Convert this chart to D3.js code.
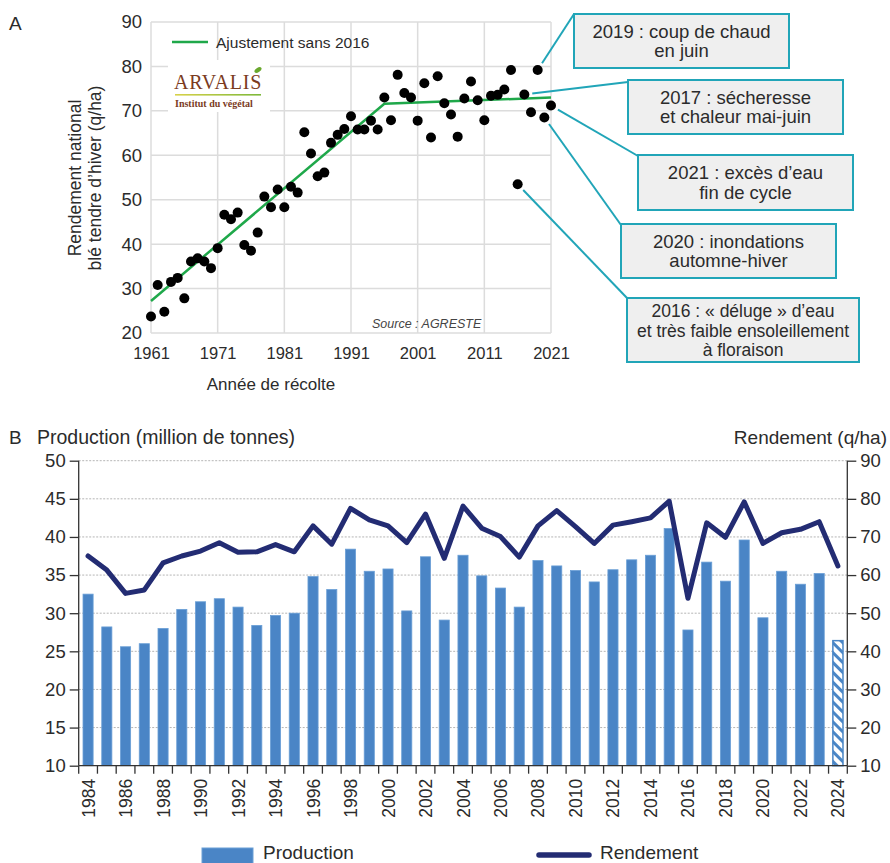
<!DOCTYPE html>
<html><head><meta charset="utf-8">
<script src="https://cdn.jsdelivr.net/npm/d3@7"></script>
<style>
body{margin:0;background:#fff;}
svg{display:block;font-family:"Liberation Sans",Arial,Helvetica,sans-serif;}
</style></head>
<body><svg id="c" width="890" height="863"></svg>
<script>
// ---------- Panel A data ----------
const yearsA = d3.range(1961, 2022);
const yieldA = [23.7,30.8,24.8,31.5,32.4,27.8,36.1,36.8,36.1,34.6,
                39.1,46.6,45.6,47.1,39.8,38.5,42.6,50.7,48.3,52.3,
                48.3,52.9,51.6,65.2,60.4,55.3,56.1,62.8,64.6,65.9,
                68.8,65.8,65.8,67.8,65.8,73.0,67.9,78.1,74.0,73.0,
                67.8,76.2,64.0,77.8,71.7,69.2,64.2,72.8,76.6,72.4,
                67.9,73.4,73.6,74.8,79.2,53.5,73.7,69.7,79.2,68.5,71.2];
const fitYears = [1961, 1996, 2021];
const fitValues = [27.2, 71.6, 73.0];
const xTicksA = [1961,1971,1981,1991,2001,2011,2021];
const yTicksA = [20,30,40,50,60,70,80,90];
const notes = [
  {year:2019, lines:["2019 : coup de chaud","en juin"]},
  {year:2017, lines:["2017 : sécheresse","et chaleur mai-juin"]},
  {year:2021, lines:["2021 : excès d’eau","fin de cycle"]},
  {year:2020, lines:["2020 : inondations","automne-hiver"]},
  {year:2016, lines:["2016 : « déluge » d’eau","et très faible ensoleillement","à floraison"]}
];

// ---------- Panel B data ----------
const yearsB = d3.range(1984, 2025);
const production = [32.5,28.2,25.6,26.0,28.0,30.5,31.5,31.9,30.8,28.4,
                    29.7,30.0,34.8,33.1,38.4,35.5,35.8,30.3,37.4,29.1,
                    37.6,34.9,33.3,30.8,36.9,36.2,35.6,34.1,35.7,37.0,
                    37.6,41.1,27.8,36.7,34.2,39.6,29.4,35.5,33.8,35.2,26.4];
const rendement = [65.0,61.3,55.2,56.1,63.2,65.0,66.3,68.5,66.0,66.1,
                   68.0,66.1,72.9,68.1,77.5,74.5,72.9,68.5,76.0,64.4,
                   78.1,72.3,70.1,64.7,72.9,76.9,72.7,68.3,73.1,74.0,
                   75.0,79.4,53.9,73.7,69.9,79.2,68.3,71.1,72.0,74.0,62.4];
const estimatedYear = 2024;
const leftTicks = [10,15,20,25,30,35,40,45,50];
const rightTicks = [10,20,30,40,50,60,70,80,90];

const svg = d3.select("#c");
const txt = "#2b2b2b";
const defs = svg.append("defs");

// ================= PANEL A =================
const xA = d3.scaleLinear().domain([1961,2021]).range([151,551]);
const yA = d3.scaleLinear().domain([20,90]).range([333,22]);

svg.append("text").attr("x",9).attr("y",30).attr("font-size",19).attr("fill",txt).text("A");

const gA = svg.append("g");
gA.selectAll(".gx").data(xTicksA).join("line")
  .attr("x1",d=>xA(d)).attr("x2",d=>xA(d)).attr("y1",yA(20)).attr("y2",yA(90))
  .attr("stroke","#dcdcdc").attr("stroke-width",1.5);
gA.selectAll(".gy").data(yTicksA).join("line")
  .attr("x1",xA(1961)).attr("x2",xA(2021)).attr("y1",d=>yA(d)).attr("y2",d=>yA(d))
  .attr("stroke","#dcdcdc").attr("stroke-width",1.5);

const axAy = gA.append("g").attr("transform",`translate(${xA(1961)},0)`)
  .call(d3.axisLeft(yA).tickValues(yTicksA).tickSize(0).tickPadding(9));
axAy.select(".domain").remove();
axAy.selectAll("text").attr("font-size",18.5).attr("fill",txt).attr("font-family","Liberation Sans, Arial");
const axAx = gA.append("g").attr("transform",`translate(0,${yA(20)})`)
  .call(d3.axisBottom(xA).tickValues(xTicksA).tickFormat(d3.format("d")).tickSize(0).tickPadding(14));
axAx.select(".domain").remove();
axAx.selectAll("text").attr("font-size",16.5).attr("fill",txt).attr("font-family","Liberation Sans, Arial");

svg.append("text").attr("x",271).attr("y",390).attr("text-anchor","middle")
  .attr("font-size",17).attr("fill",txt).text("Année de récolte");
const yt = svg.append("text").attr("transform","translate(81,178) rotate(-90)")
  .attr("text-anchor","middle").attr("font-size",17.5).attr("fill",txt);
yt.append("tspan").attr("x",0).attr("dy",0).text("Rendement national");
yt.append("tspan").attr("x",0).attr("dy",20).text("blé tendre d’hiver (q/ha)");

// logo
const logo = svg.append("g");
logo.append("rect").attr("x",168).attr("y",60).attr("width",102).attr("height",52).attr("fill","#fff");
logo.append("text").attr("x",174).attr("y",89).attr("font-family","Liberation Serif, DejaVu Serif, serif")
  .attr("font-size",20).attr("fill","#7b3b1e").attr("letter-spacing",0.8).text("ARVALIS");
logo.append("ellipse").attr("cx",258).attr("cy",70).attr("rx",4).attr("ry",2.2).attr("fill","#6aa82e")
  .attr("transform","rotate(-35,258,70)");
const grad = defs.append("linearGradient").attr("id","lg");
grad.append("stop").attr("offset","0").attr("stop-color","#d8d24a");
grad.append("stop").attr("offset","1").attr("stop-color","#7cb83a");
logo.append("rect").attr("x",175).attr("y",94).attr("width",86).attr("height",1.6).attr("fill","url(#lg)");
logo.append("text").attr("x",175).attr("y",106.5).attr("font-family","Liberation Serif, DejaVu Serif, serif")
  .attr("font-size",10).attr("font-weight","bold").attr("fill","#7b3b1e").text("Institut du végétal");

// legend
svg.append("line").attr("x1",172).attr("x2",208).attr("y1",42).attr("y2",42)
  .attr("stroke","#1fa84a").attr("stroke-width",2.5);
svg.append("text").attr("x",216).attr("y",47.5).attr("font-size",15.5).attr("fill",txt).text("Ajustement sans 2016");

// source
svg.append("text").attr("x",372).attr("y",328).attr("font-size",12.5).attr("font-style","italic")
  .attr("font-family","Liberation Sans, Arial").attr("fill","#444").text("Source : AGRESTE");

// fit line
gA.append("path").datum(fitYears.map((y,i)=>[y,fitValues[i]]))
  .attr("d",d3.line().x(d=>xA(d[0])).y(d=>yA(d[1])))
  .attr("fill","none").attr("stroke","#1fa84a").attr("stroke-width",2.5);

// points
gA.selectAll(".pt").data(yearsA.map((y,i)=>[y,yieldA[i]])).join("circle")
  .attr("cx",d=>xA(d[0])).attr("cy",d=>yA(d[1])).attr("r",5).attr("fill","#000");

// annotations
const boxes = [
  {x:574,y:14,w:215,h:54, ax:574, ay:14},
  {x:628,y:80,w:215,h:54, ax:628, ay:82},
  {x:638,y:155,w:215,h:55, ax:638, ay:156},
  {x:621,y:224,w:215,h:54, ax:621, ay:225},
  {x:627,y:298,w:232,h:64, ax:627, ay:298}
];
const teal = "#21a5b8";
notes.forEach((n,i)=>{
  const b = boxes[i];
  const idx = yearsA.indexOf(n.year);
  const px = xA(n.year), py = yA(yieldA[idx]);
  const dx = b.ax-px, dy = b.ay-py, L = Math.hypot(dx,dy);
  svg.append("line").attr("x1",b.ax).attr("y1",b.ay)
    .attr("x2",px+dx/L*8).attr("y2",py+dy/L*8)
    .attr("stroke",teal).attr("stroke-width",2);
  svg.append("rect").attr("x",b.x).attr("y",b.y).attr("width",b.w).attr("height",b.h)
    .attr("fill","#efefef").attr("stroke",teal).attr("stroke-width",2);
  const lh = 19.5;
  const y0 = b.y + b.h/2 - (n.lines.length-1)*lh/2 + 6.5;
  n.lines.forEach((t,k)=>{
    svg.append("text").attr("x",b.x+b.w/2).attr("y",y0+k*lh).attr("text-anchor","middle")
      .attr("font-size",n.lines.length===3?17.5:18.5).attr("fill",txt).text(t);
  });
});

// ================= PANEL B =================
const x0=78.7, x1=847.3, yb=765.7, yt2=460.7;
const xB = d3.scaleBand().domain(yearsB).range([x0,x1]).paddingInner(0.46).paddingOuter(0.23);
const yL = d3.scaleLinear().domain([10,50]).range([yb,yt2]);
const yR = d3.scaleLinear().domain([10,90]).range([yb,yt2]);

svg.append("text").attr("x",9).attr("y",444).attr("font-size",19).attr("fill",txt).text("B");
svg.append("text").attr("x",37).attr("y",444).attr("font-size",19.5).attr("fill",txt).text("Production (million de tonnes)");
svg.append("text").attr("x",887).attr("y",444).attr("text-anchor","end").attr("font-size",19).attr("fill",txt).text("Rendement (q/ha)");

const gB = svg.append("g");
gB.selectAll(".gl").data(leftTicks.slice(1)).join("line")
  .attr("x1",x0).attr("x2",x1).attr("y1",d=>yL(d)).attr("y2",d=>yL(d))
  .attr("stroke","#b5b5b5").attr("stroke-width",1).attr("stroke-dasharray","2,1.5");

const pat = defs.append("pattern").attr("id","hatch").attr("patternUnits","userSpaceOnUse")
  .attr("width",7).attr("height",7).attr("patternTransform","rotate(-45)");
pat.append("rect").attr("width",7).attr("height",7).attr("fill","#fff");
pat.append("rect").attr("x",0).attr("y",0).attr("width",3).attr("height",7).attr("fill","#4a86c6");

gB.selectAll(".bar").data(yearsB.map((y,i)=>[y,production[i]])).join("rect")
  .attr("x",d=>xB(d[0])).attr("width",xB.bandwidth())
  .attr("y",d=>yL(d[1])).attr("height",d=>yb-yL(d[1]))
  .attr("fill",d=>d[0]===estimatedYear?"url(#hatch)":"#4a85c6")
  .attr("stroke",d=>d[0]===estimatedYear?"#4a86c6":"#6a9fd6").attr("stroke-width",d=>d[0]===estimatedYear?1.5:0.8);

const axL = gB.append("g").attr("transform",`translate(${x0},0)`)
  .call(d3.axisLeft(yL).tickValues(leftTicks).tickSize(9).tickPadding(4));
const axR = gB.append("g").attr("transform",`translate(${x1},0)`)
  .call(d3.axisRight(yR).tickValues(rightTicks).tickSize(9).tickPadding(4));
[axL,axR].forEach(a=>{
  a.select(".domain").attr("stroke","#333").attr("stroke-width",1.3);
  a.selectAll(".tick line").attr("stroke","#333").attr("stroke-width",1.3);
  a.selectAll("text").attr("font-size",18.5).attr("fill",txt).attr("font-family","Liberation Sans, Arial");
});
axL.select(".domain").attr("d",`M0,${yb}V${yt2}`);
axR.select(".domain").attr("d",`M0,${yb}V${yt2}`);

const axX = gB.append("g").attr("transform",`translate(0,${yb})`)
  .call(d3.axisBottom(xB).tickValues(yearsB.filter(y=>y%2===0)).tickSize(0).tickPadding(0));
axX.select(".domain").attr("stroke","#333").attr("stroke-width",1.3).attr("d",`M${x0},0H${x1}`);
axX.selectAll("text").attr("font-size",17.5).attr("fill",txt).attr("font-family","Liberation Sans, Arial")
  .attr("text-anchor","end").attr("transform","translate(6.5,13) rotate(-90)").attr("dy","0");
gB.selectAll(".bt").data(d3.range(yearsB.length+1)).join("line")
  .attr("x1",i=>x0+i*xB.step()).attr("x2",i=>x0+i*xB.step())
  .attr("y1",yb).attr("y2",yb+8).attr("stroke","#333").attr("stroke-width",1.3);

gB.append("path").datum(yearsB.map((y,i)=>[y,rendement[i]]))
  .attr("d",d3.line().x(d=>xB(d[0])+xB.bandwidth()/2).y(d=>yR(d[1])))
  .attr("fill","none").attr("stroke","#232c73").attr("stroke-width",5).attr("stroke-linejoin","round").attr("stroke-linecap","round");

// legend
svg.append("rect").attr("x",202).attr("y",848).attr("width",51).attr("height",16).attr("fill","#4a85c6").attr("stroke","#6a9fd6");
svg.append("text").attr("x",263).attr("y",859).attr("font-size",19).attr("fill",txt).text("Production");
svg.append("line").attr("x1",539).attr("x2",589).attr("y1",855).attr("y2",855)
  .attr("stroke","#232c73").attr("stroke-width",5.5).attr("stroke-linecap","round");
svg.append("text").attr("x",600).attr("y",859).attr("font-size",19).attr("fill",txt).text("Rendement");
</script></body></html>
